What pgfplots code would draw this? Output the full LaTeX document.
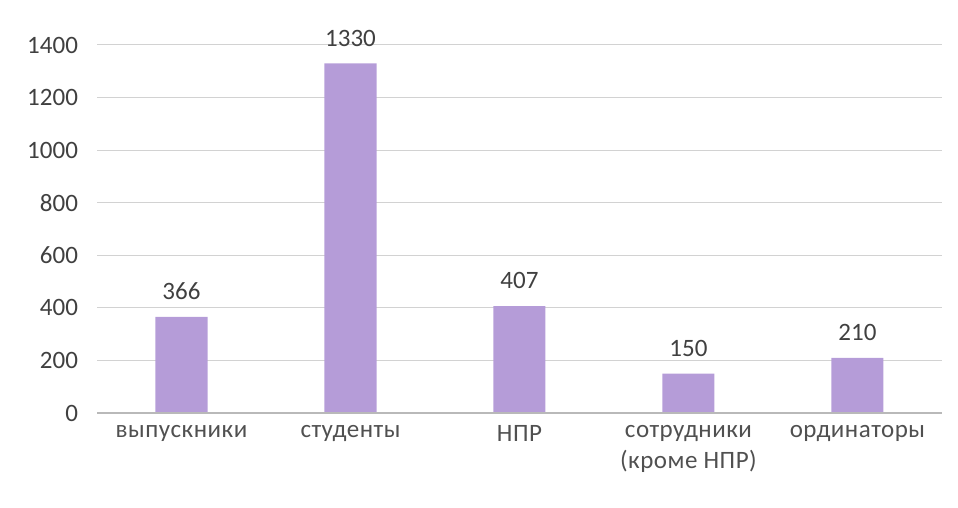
\documentclass[border=0pt]{standalone}
\usepackage{pgfplots}
\pgfplotsset{compat=1.18}
\usepackage{fontspec}
\setmainfont{Carlito}
\definecolor{barc}{HTML}{B59CD8}
\definecolor{txt}{HTML}{404040}
\definecolor{txtx}{HTML}{505050}
\begin{document}
\begin{tikzpicture}
\begin{axis}[
  scale only axis,
  width=422.5pt, height=184pt,
  xmin=-0.5, xmax=4.5,
  ymin=0, ymax=1400,
  ytick={0,200,...,1400},
  xtick=data,
  xticklabels={выпускники, студенты, НПР, {сотрудники\\(кроме НПР)}, ординаторы},
  x tick label style={align=center, font=\addfontfeatures{LetterSpace=2}\fontsize{12.5}{15.5}\selectfont, text=txtx, yshift=-2.5pt},
  y tick label style={font=\fontsize{12.5}{14}\selectfont, text=txt},
  /pgf/number format/assume math mode=true,
  /pgf/number format/1000 sep={},
  major tick length=0pt,
  ymajorgrids,
  grid style={gray!35, line width=0.5pt},
  axis line style={draw=none},
  axis x line*=bottom,
  axis y line*=left,
  yticklabel style={xshift=-6pt},
  clip=false,
]
\addplot[ybar, bar width=26pt, fill=barc, draw=none,
  nodes near coords,
  every node near coord/.append style={font=\fontsize{12.5}{14}\selectfont, text=txt, yshift=5pt},
] coordinates {(0,366) (1,1330) (2,407) (3,150) (4,210)};
\draw[gray!55, line width=0.6pt] (axis cs:-0.5,0) -- (axis cs:4.5,0);
\end{axis}
\path[use as bounding box] (-48.5pt,-47.5pt) rectangle (430.5pt,206.5pt);
\end{tikzpicture}
\end{document}
